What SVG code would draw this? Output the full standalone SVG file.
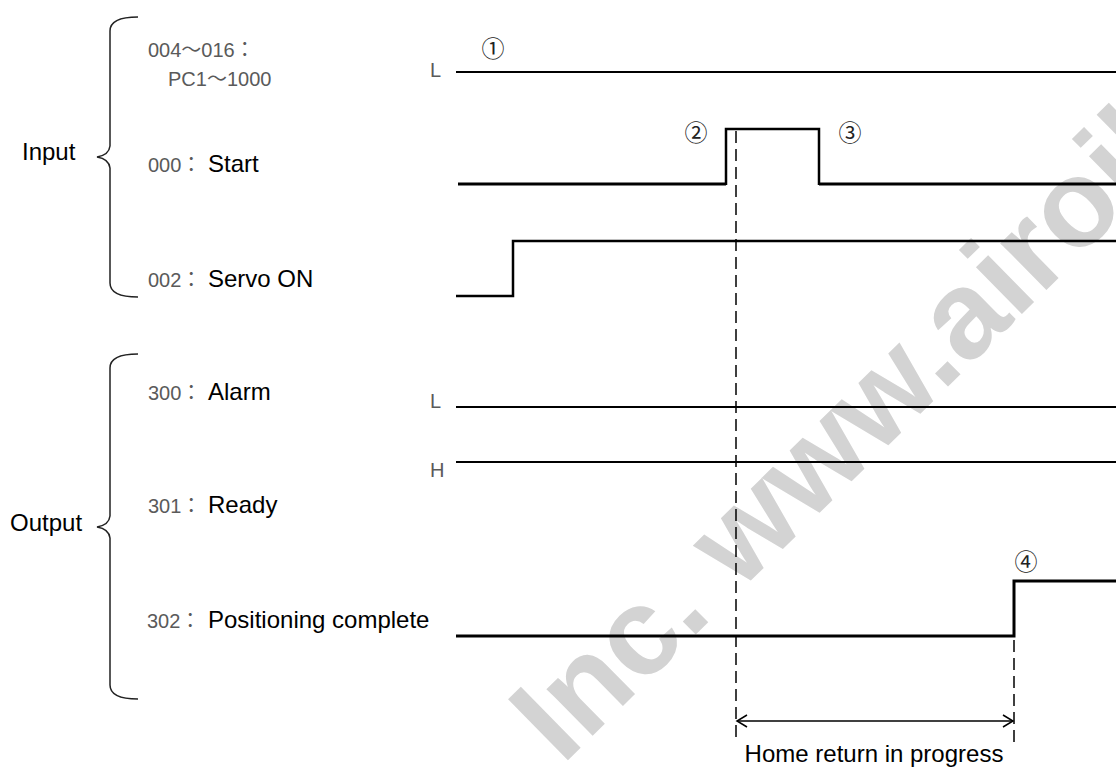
<svg xmlns="http://www.w3.org/2000/svg" width="1116" height="770" viewBox="0 0 1116 770">
<defs>
<style>
.lbl{font-family:"Liberation Sans",Arial,sans-serif;font-size:24px;fill:#000}
.code{font-family:"Liberation Sans","Noto Sans CJK JP",sans-serif;font-size:20px;fill:#5a5a5a}
.num{font-family:"Noto Sans CJK JP","DejaVu Sans",sans-serif;font-size:23px;fill:#222;text-anchor:middle}
.sig{fill:none;stroke:#000;stroke-linejoin:miter;stroke-linecap:butt}
.brace{fill:none;stroke:#222;stroke-width:1.5}
.dash{stroke:#000;stroke-width:1.5;stroke-dasharray:12 6;fill:none}
.wm{font-family:"Liberation Sans",Arial,sans-serif;font-weight:bold;font-size:124px;fill:#d3d3d3}
</style>
<marker id="ah" markerWidth="14" markerHeight="14" refX="11" refY="7" orient="auto-start-reverse" markerUnits="userSpaceOnUse">
<path d="M1,1 L11,7 L1,13" fill="none" stroke="#000" stroke-width="1.5"/>
</marker>
</defs>
<rect width="1116" height="770" fill="#fff"/>
<text class="wm" transform="translate(562,766) rotate(-44.5)">Inc. www.airoil</text>

<g id="input-group">
<path class="brace" d="M138,17 Q110,17 110,31 L110,146 Q109,155 97,157 Q109,159 110,168 L110,283 Q110,297 138,297"/>
<text class="lbl" x="22" y="160">Input</text>
</g>
<g id="output-group">
<path class="brace" d="M138,354 Q110,354 110,368 L110,516 Q109,525 97,527 Q109,529 110,538 L110,685 Q110,699 138,699"/>
<text class="lbl" x="10" y="531">Output</text>
</g>

<g id="sig-pc">
<text class="code" x="148" y="57">004〜016：</text>
<text class="code" x="168" y="86">PC1〜1000</text>
<text class="code" x="430" y="77">L</text>
</g>
<g id="sig-start">
<text class="code" x="148" y="172">000：</text>
<text class="lbl" x="208" y="172">Start</text>
</g>
<g id="sig-servo">
<text class="code" x="148" y="287">002：</text>
<text class="lbl" x="208" y="287">Servo ON</text>
</g>
<g id="sig-alarm">
<text class="code" x="148" y="400">300：</text>
<text class="lbl" x="208" y="400">Alarm</text>
<text class="code" x="430" y="408">L</text>
</g>
<g id="sig-ready">
<text class="code" x="148" y="513">301：</text>
<text class="lbl" x="208" y="513">Ready</text>
<text class="code" x="430" y="477">H</text>
</g>
<g id="sig-pos">
<text class="code" x="147" y="628">302：</text>
<text class="lbl" x="208" y="628">Positioning complete</text>
</g>

<g id="markers">
<text class="num" x="493" y="57">①</text>
<text class="num" x="696" y="141">②</text>
<text class="num" x="850" y="141">③</text>
<text class="num" x="1026" y="570">④</text>
</g>

<g id="connectors">
<path class="sig" stroke-width="2" d="M456,72 H1116"/>
<path class="sig" stroke-width="3" d="M458,184 H726"/>
<path class="sig" stroke-width="2.5" d="M726,185 V129 H819 V185"/>
<path class="sig" stroke-width="3" d="M819,184 H1116"/>
<path class="sig" stroke-width="2.5" d="M456,296 H513 V241 H1116"/>
<path class="sig" stroke-width="2" d="M456,407 H1116"/>
<path class="sig" stroke-width="2" d="M456,462 H1116"/>
<path class="sig" stroke-width="3" d="M456,636 H1014 V581 H1116"/>
<line class="dash" x1="736" y1="131" x2="736" y2="742"/>
<line class="dash" x1="1014" y1="640" x2="1014" y2="742"/>
<line x1="737" y1="721" x2="1013" y2="721" stroke="#000" stroke-width="1.3" marker-start="url(#ah)" marker-end="url(#ah)"/>
<text class="lbl" x="874" y="762" text-anchor="middle">Home return in progress</text>
</g>
</svg>
